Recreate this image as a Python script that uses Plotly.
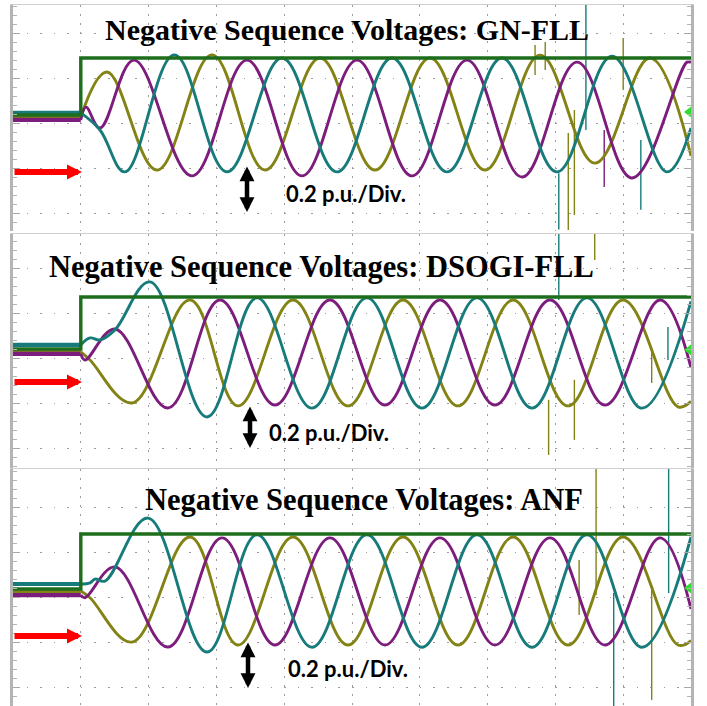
import plotly.graph_objects as go

# ---------------- data (time in ms, 10 ms/div ; voltage in p.u., 0.2 p.u./div) ----------------
panel_titles = ["Negative Sequence Voltages: GN-FLL",
                "Negative Sequence Voltages: DSOGI-FLL",
                "Negative Sequence Voltages: ANF"]
scale_label = "0.2 p.u./Div."

pre_t = [0, 10]          # before the step
step_t = 10              # step instant
end_t = 100

# ---- Panel 1 : GN-FLL ----
p1_pre_yellow, p1_pre_purple, p1_pre_teal, p1_pre_green = 0.0, -0.013, 0.018, 0.009
p1_green_level = 0.262
p1_marker_level = 0.022
p1_yellow_t = [10.0, 13.86, 21.24, 29.35, 37.17, 45.28, 53.39, 61.50, 69.62, 77.73, 85.84, 93.95, 100.0]
p1_yellow_v = [0.0, 0.200, -0.236, 0.276, -0.236, 0.262, -0.236, 0.262, -0.236, 0.275, -0.205, 0.262, -0.173]
p1_purple_t = [10.0, 10.77, 12.83, 17.85, 26.40, 34.51, 42.62, 50.74, 58.85, 66.96, 75.07, 83.19, 91.30, 99.41, 100.0]
p1_purple_v = [-0.013, 0.044, -0.049, 0.253, -0.262, 0.253, -0.262, 0.253, -0.262, 0.253, -0.267, 0.244, -0.271, 0.244, 0.242]
p1_teal_t = [10.0, 12.83, 16.52, 23.80, 31.56, 39.67, 47.79, 55.90, 64.01, 72.12, 80.23, 88.35, 96.46, 100.0]
p1_teal_v = [0.018, -0.058, -0.244, 0.276, -0.244, 0.262, -0.244, 0.262, -0.244, 0.262, -0.244, 0.270, -0.244, -0.049]
p1_spike_t = [84.5, 81.9, 82.8, 90.0, 92.6, 87.2, 78.5, 77.0, 80.5]
p1_spike_lo = [-0.058, -0.502, -0.436, 0.120, -0.413, -0.311, 0.209, 0.187, -0.500]
p1_spike_hi = [0.498, -0.071, 0.031, 0.351, -0.102, -0.058, 0.333, 0.320, -0.250]
p1_spike_c = ["teal", "yellow", "yellow", "yellow", "teal", "purple", "yellow", "yellow", "teal"]

# ---- Panel 2 : DSOGI-FLL ----
p2_pre_yellow, p2_pre_purple, p2_pre_teal, p2_pre_green = 0.0, -0.009, 0.031, 0.013
p2_green_level = 0.244
p2_marker_level = 0.009
p2_yellow_t = [10.0, 11.36, 17.55, 26.11, 33.19, 41.30, 49.41, 57.52, 65.63, 73.75, 81.86, 89.97, 98.08, 100.0]
p2_yellow_v = [0.0, -0.036, -0.227, 0.231, -0.240, 0.231, -0.240, 0.231, -0.240, 0.231, -0.240, 0.231, -0.244, -0.220]
p2_purple_t = [10.0, 10.62, 15.04, 22.86, 30.53, 38.64, 46.75, 54.87, 62.98, 71.09, 79.20, 87.32, 95.43, 100.0]
p2_purple_v = [-0.009, -0.036, 0.102, -0.249, 0.231, -0.236, 0.231, -0.236, 0.231, -0.236, 0.231, -0.236, 0.231, -0.070]
p2_teal_t = [10.0, 11.36, 12.83, 15.04, 20.21, 28.61, 35.99, 44.10, 52.21, 60.32, 68.44, 76.55, 84.66, 92.77, 100.0]
p2_teal_v = [0.031, 0.062, 0.053, 0.098, 0.311, -0.289, 0.240, -0.250, 0.240, -0.250, 0.240, -0.250, 0.240, -0.250, 0.225]
p2_spike_t = [80.5, 85.8, 79.0, 94.2, 96.6, 82.8]
p2_spike_lo = [0.231, 0.409, -0.458, -0.138, -0.036, -0.391]
p2_spike_hi = [0.524, 0.524, -0.213, 0.009, 0.111, -0.124]
p2_spike_c = ["teal", "yellow", "yellow", "yellow", "teal", "yellow"]

# ---- Panel 3 : ANF ----
p3_pre_yellow, p3_pre_purple, p3_pre_teal, p3_pre_green = 0.0, -0.018, 0.031, 0.009
p3_green_level = 0.253
p3_marker_level = 0.013
p3_yellow_t = [10.0, 11.36, 17.55, 26.11, 33.19, 41.30, 49.41, 57.52, 65.63, 73.75, 81.86, 89.97, 98.08, 100.0]
p3_yellow_v = [0.0, -0.030, -0.227, 0.240, -0.240, 0.240, -0.240, 0.240, -0.240, 0.240, -0.240, 0.240, -0.240, -0.220]
p3_purple_t = [10.0, 10.62, 15.04, 22.86, 30.83, 38.64, 46.75, 54.87, 62.98, 71.09, 79.20, 87.32, 95.43, 100.0]
p3_purple_v = [-0.018, -0.030, 0.107, -0.249, 0.236, -0.240, 0.236, -0.240, 0.236, -0.240, 0.236, -0.240, 0.236, -0.080]
p3_teal_t = [10.0, 11.36, 12.09, 13.57, 19.91, 28.61, 35.99, 44.10, 52.21, 60.32, 68.44, 76.55, 84.66, 92.77, 100.0]
p3_teal_v = [0.031, 0.036, 0.053, 0.044, 0.324, -0.271, 0.250, -0.250, 0.250, -0.250, 0.250, -0.250, 0.250, -0.250, 0.240]
p3_spike_t = [86.0, 94.2, 88.6, 96.7, 83.5]
p3_spike_lo = [-0.018, -0.484, -0.511, -0.009, -0.107]
p3_spike_hi = [0.542, 0.004, -0.009, 0.542, 0.138]
p3_spike_c = ["yellow", "yellow", "teal", "teal", "yellow"]

# ---------------- styling ----------------
COL = {"yellow": "#838315", "purple": "#7c1c7c", "teal": "#187b7b", "green": "#1d6d1d"}
W, H = 707, 706
X_DOM = [13 / W, 691 / W]
Y_DOMS = [[1 - 231 / H, 1 - 5 / H], [1 - 468 / H, 1 - 234 / H], [0.0, 1 - 469 / H]]
Y_RANGES = [[-0.507, 0.498], [-0.516, 0.524], [-0.511, 0.542]]
Y_TICK0 = [-0.027, -0.031, -0.027]

panels = [
    dict(pre=(p1_pre_yellow, p1_pre_purple, p1_pre_teal, p1_pre_green), green=p1_green_level, mk=p1_marker_level,
         yt=p1_yellow_t, yv=p1_yellow_v, pt=p1_purple_t, pv=p1_purple_v, tt=p1_teal_t, tv=p1_teal_v,
         st=p1_spike_t, slo=p1_spike_lo, shi=p1_spike_hi, sc=p1_spike_c),
    dict(pre=(p2_pre_yellow, p2_pre_purple, p2_pre_teal, p2_pre_green), green=p2_green_level, mk=p2_marker_level,
         yt=p2_yellow_t, yv=p2_yellow_v, pt=p2_purple_t, pv=p2_purple_v, tt=p2_teal_t, tv=p2_teal_v,
         st=p2_spike_t, slo=p2_spike_lo, shi=p2_spike_hi, sc=p2_spike_c),
    dict(pre=(p3_pre_yellow, p3_pre_purple, p3_pre_teal, p3_pre_green), green=p3_green_level, mk=p3_marker_level,
         yt=p3_yellow_t, yv=p3_yellow_v, pt=p3_purple_t, pv=p3_purple_v, tt=p3_teal_t, tv=p3_teal_v,
         st=p3_spike_t, slo=p3_spike_lo, shi=p3_spike_hi, sc=p3_spike_c),
]

fig = go.Figure()
LW = 2.9
for i, p in enumerate(panels):
    xa, ya = ("x" if i == 0 else f"x{i+1}"), ("y" if i == 0 else f"y{i+1}")
    # spikes
    for cname in ["yellow", "purple", "teal"]:
        xs, ys = [], []
        for t, lo, hi, c in zip(p["st"], p["slo"], p["shi"], p["sc"]):
            if c == cname:
                xs += [t, t, None]
                ys += [lo, hi, None]
        if xs:
            fig.add_trace(go.Scatter(x=xs, y=ys, mode="lines", line=dict(color=COL[cname], width=1.4),
                                     xaxis=xa, yaxis=ya, showlegend=False, hoverinfo="skip"))
    pre_y, pre_p, pre_te, pre_g = p["pre"]
    # pre-step flat levels
    for lvl, cname in [(pre_y, "yellow"), (pre_p, "purple"), (pre_te, "teal")]:
        fig.add_trace(go.Scatter(x=pre_t, y=[lvl, lvl], mode="lines", line=dict(color=COL[cname], width=4.2),
                                 xaxis=xa, yaxis=ya, showlegend=False, hoverinfo="skip"))
    # sinusoidal phases
    for tx, vy, cname in [(p["yt"], p["yv"], "yellow"), (p["pt"], p["pv"], "purple"), (p["tt"], p["tv"], "teal")]:
        fig.add_trace(go.Scatter(x=tx, y=vy, mode="lines",
                                 line=dict(color=COL[cname], width=LW, shape="spline", smoothing=1.1),
                                 xaxis=xa, yaxis=ya, showlegend=False, hoverinfo="skip"))
    # green step trace
    fig.add_trace(go.Scatter(x=[pre_t[0], step_t, step_t, end_t], y=[pre_g, pre_g, p["green"], p["green"]],
                             mode="lines", line=dict(color=COL["green"], width=3.4),
                             xaxis=xa, yaxis=ya, showlegend=False, hoverinfo="skip"))
    # channel marker
    fig.add_trace(go.Scatter(x=[99.7], y=[p["mk"]], mode="markers", cliponaxis=False,
                             marker=dict(symbol="triangle-left", size=10, color="#2fdc2f"),
                             xaxis=xa, yaxis=ya, showlegend=False, hoverinfo="skip"))

layout = dict(width=W, height=H, margin=dict(l=0, r=0, t=0, b=0),
              paper_bgcolor="white", plot_bgcolor="white", showlegend=False)
for i in range(3):
    sx = "" if i == 0 else str(i + 1)
    layout["xaxis" + sx] = dict(domain=X_DOM, range=[0, 100], anchor="y" + sx, side="top",
                                showgrid=True, tick0=0, dtick=10, gridcolor="#9c9c9c", gridwidth=1.4,
                                griddash="1.6px,7.4px", zeroline=False, showticklabels=False, ticks="",
                                showline=True, linecolor="#cfcfcf", linewidth=1)
    layout["yaxis" + sx] = dict(domain=Y_DOMS[i], range=Y_RANGES[i], anchor="x" + sx,
                                showgrid=True, tick0=Y_TICK0[i], dtick=0.2, gridcolor="#9c9c9c", gridwidth=1.4,
                                griddash="1.6px,11.96px", zeroline=False, showticklabels=False,
                                ticks="inside", ticklen=7, tickwidth=1, tickcolor="#a8a8a8",
                                minor=dict(tick0=Y_TICK0[i], dtick=0.04, ticks="inside", ticklen=4,
                                           tickwidth=1, tickcolor="#b4b4b4", showgrid=False),
                                showline=True, linecolor="#b4b4b4", linewidth=2.5, mirror="ticks")

# text & arrows (paper coordinates)
title_pos = [(347, 30, 30), (321, 267, 30.5), (364, 500, 30.5)]
label_pos = [(346, 193), (329, 432), (348, 668)]
red_y = [172, 382, 636]
black_arrow = [(247, 165, 212), (250, 405, 448), (248, 641, 688)]
ann = []
for i in range(3):
    tx, ty, fs = title_pos[i]
    ann.append(dict(x=tx / W, y=1 - ty / H, xref="paper", yref="paper", text=panel_titles[i], showarrow=False,
                    xanchor="center", yanchor="middle",
                    font=dict(family="Liberation Serif", size=fs, color="black", weight="bold")))
    lx, ly = label_pos[i]
    ann.append(dict(x=lx / W, y=1 - ly / H, xref="paper", yref="paper", text=scale_label, showarrow=False,
                    xanchor="center", yanchor="middle",
                    font=dict(family="Lato", size=22, color="black", weight="bold")))
    ann.append(dict(x=82 / W, y=1 - red_y[i] / H, xref="paper", yref="paper", text="", showarrow=True,
                    ax=-69, ay=0, arrowhead=2, arrowsize=0.5, arrowwidth=6, arrowcolor="#ff0000"))
    bx, by0, by1 = black_arrow[i]
    ann.append(dict(x=bx / W, y=1 - by1 / H, xref="paper", yref="paper", text="", showarrow=True,
                    ax=0, ay=-(by1 - by0), arrowhead=2, arrowsize=0.66, arrowwidth=4.5,
                    arrowside="end+start", startarrowhead=2, startarrowsize=0.66, arrowcolor="black"))
layout["annotations"] = ann
fig.update_layout(**layout)
fig.write_html("out.html", config={"displayModeBar": False},
               post_script="document.body.style.margin='0px';document.body.style.overflow='hidden';")
